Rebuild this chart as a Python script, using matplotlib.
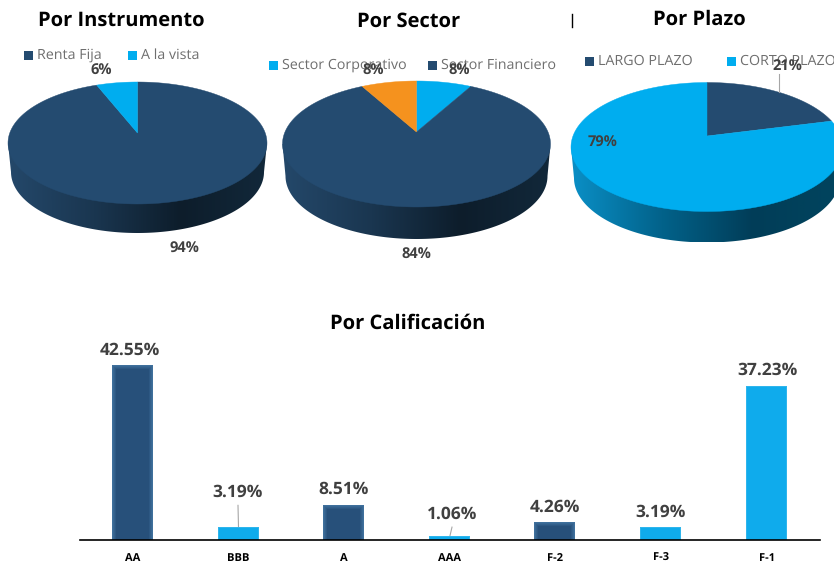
import matplotlib
matplotlib.use("Agg")
import matplotlib.pyplot as plt
from matplotlib.colors import LinearSegmentedColormap, to_rgb
from matplotlib.patches import Polygon, Rectangle
import numpy as np

plt.rcParams['font.family'] = ['Open Sans', 'DejaVu Sans']
plt.rcParams['text.hinting'] = 'no_hinting'

AZUL = '#244b70'
CELESTE = '#00adef'
NARANJA = '#f5921e'
GRIS = '#404040'

instrumento_vals = [94, 6]
instrumento_cols = [AZUL, CELESTE]
sector_vals = [8, 84, 8]
sector_cols = [CELESTE, AZUL, NARANJA]
plazo_vals = [21, 79]
plazo_cols = [AZUL, CELESTE]

calif_labels = ['AA', 'BBB', 'A', 'AAA', 'F-2', 'F-3', 'F-1']
calif_vals = [42.55, 3.19, 8.51, 1.06, 4.26, 3.19, 37.23]
calif_textos = ['42.55%', '3.19%', '8.51%', '1.06%', '4.26%', '3.19%', '37.23%']
calif_cols = [AZUL, CELESTE, AZUL, CELESTE, AZUL, CELESTE, CELESTE]

fig = plt.figure(figsize=(8.34, 5.65), dpi=100)
ax = fig.add_axes([0, 0, 1, 1])
ax.set_xlim(0, 834)
ax.set_ylim(565, 0)
ax.axis('off')


def punto(t, cx, cy, a, b, d):
    # circulo visto en perspectiva, el centro cae en el apice
    s = np.sin(t)
    c = np.cos(t)
    den = 1 + d * c
    return cx + a * s * np.sqrt(1 - d * d) / den, cy - b * (c + d) / den


def torta(vals, cols, cx, cy, a, b, apice, prof, lados):
    d = (cy - apice) / b
    # costado con degradado
    t = np.linspace(0, np.pi, 200)
    xs = np.concatenate([cx + a * np.cos(t), cx + (a - 3) * np.cos(t[::-1])])
    ys = np.concatenate([cy + 0 * t, cy + prof + b * np.sin(t[::-1])])
    cmap = LinearSegmentedColormap.from_list('lado', lados)
    im = ax.imshow(np.linspace(0, 1, 256).reshape(1, -1), cmap=cmap, aspect='auto',
                   extent=(cx - a, cx + a, cy + prof + b, cy), zorder=1)
    clip = Polygon(np.column_stack([xs, ys]), transform=ax.transData, fc='none', ec='none')
    ax.add_patch(clip)
    im.set_clip_path(clip)
    # tapa
    ang = 0
    total = sum(vals)
    for v, col in zip(vals, cols):
        t = np.radians(np.linspace(ang, ang + 360 * v / total, 200))
        px, py = punto(t, cx, cy, a, b, d)
        pts = np.column_stack([np.r_[cx, px], np.r_[apice, py]])
        ax.add_patch(Polygon(pts, fc=col, ec=col, lw=0.3, zorder=2))
        ang += 360 * v / total


torta(instrumento_vals, instrumento_cols, 137.5, 143, 129.5, 61, 133, 29,
      ['#24486a', '#1a3650', '#0d1d2b', '#12283a'])
torta(sector_vals, sector_cols, 416.5, 144, 134, 63, 132, 32,
      ['#24486a', '#1a3650', '#0d1d2b', '#12283a'])
torta(plazo_vals, plazo_cols, 707, 147, 136, 64.5, 136, 31,
      ['#0a8fc6', '#02628a', '#013d58', '#01455f'])
ax.set_xlim(0, 834)
ax.set_ylim(565, 0)

# titulos
for txt, x, y in [('Por Instrumento', 121, 21), ('Por Sector', 409, 22),
                  ('Por Plazo', 699, 20), ('Por Calificación', 407.5, 324)]:
    ax.text(x, y, txt, fontsize=14.5, fontweight='bold', color='black',
            ha='center', va='center', zorder=5)
ax.plot([572, 572], [14, 27], color='black', lw=1)

# leyendas
for x, y, col, txt in [(24, 55, AZUL, 'Renta Fija'), (128, 55, CELESTE, 'A la vista'),
                       (269, 65, CELESTE, 'Sector Corporativo'), (428, 65, AZUL, 'Sector Financiero'),
                       (585, 61, AZUL, 'LARGO PLAZO'), (727, 61, CELESTE, 'CORTO PLAZO')]:
    ax.add_patch(Rectangle((x, y - 4.5), 9, 9, fc=col, ec='none', zorder=3))
    ax.text(x + 13, y + 0.5, txt, fontsize=10.25, color='#6e6e6e', ha='left', va='center', zorder=3)

# etiquetas de las tortas
for x, y, txt in [(101, 71, '6%'), (184, 249, '94%'), (373, 71, '8%'), (459, 71, '8%'),
                  (416, 255, '84%'), (787, 66, '21%'), (603, 143, '79%')]:
    ax.text(x, y, txt, fontsize=10.5, fontweight='bold', color=GRIS, ha='center', va='center', zorder=6)
ax.plot([779, 779], [74, 92], color='#a6a6a6', lw=0.8, zorder=3)

# barras
base = 540
esc = 175.5 / 42.55
centros = [133, 238.5, 344, 450, 555, 661, 767]
x_txt = [130, 238, 344, 452, 555, 661, 767]
desfase = [-2, 18.5, 0, 5.5, -1, -1.5, 0]
lider = [False, True, False, True, False, False, False]
for i, (v, col) in enumerate(zip(calif_vals, calif_cols)):
    c = centros[i]
    alto = v * esc
    if col == AZUL:
        # borde difuminado, mas oscuro hacia adentro
        ext = np.array(to_rgb('#3f709c'))
        inte = np.array(to_rgb('#27507a'))
        pasos = 5
    else:
        ext = np.array(to_rgb('#2fb5ec'))
        inte = np.array(to_rgb('#0fabec'))
        pasos = 2
    for k in range(pasos):
        f = k / max(pasos - 1, 1)
        m = min(k * 1.0, alto / 2 - 0.1)
        ax.add_patch(Rectangle((c - 20.5 + m, base - alto + m), 41 - 2 * m, alto - m,
                               fc=ext * (1 - f) + inte * f, ec='none', zorder=2))
    y_txt = base - alto - 16 - desfase[i]
    ax.text(x_txt[i], y_txt, calif_textos[i], fontsize=12.5, fontweight='bold', color=GRIS,
            ha='center', va='center', zorder=4)
    ax.text(c, 561, calif_labels[i], fontsize=8, fontweight='bold', color='black',
            ha='center', va='baseline')
    if lider[i]:
        ax.plot([x_txt[i], c], [y_txt + 13, base - alto], color='#a6a6a6', lw=0.8, zorder=1)
ax.plot([80, 820], [540, 540], color='black', lw=1.2, zorder=3)

fig.savefig('out.png', dpi=100)
